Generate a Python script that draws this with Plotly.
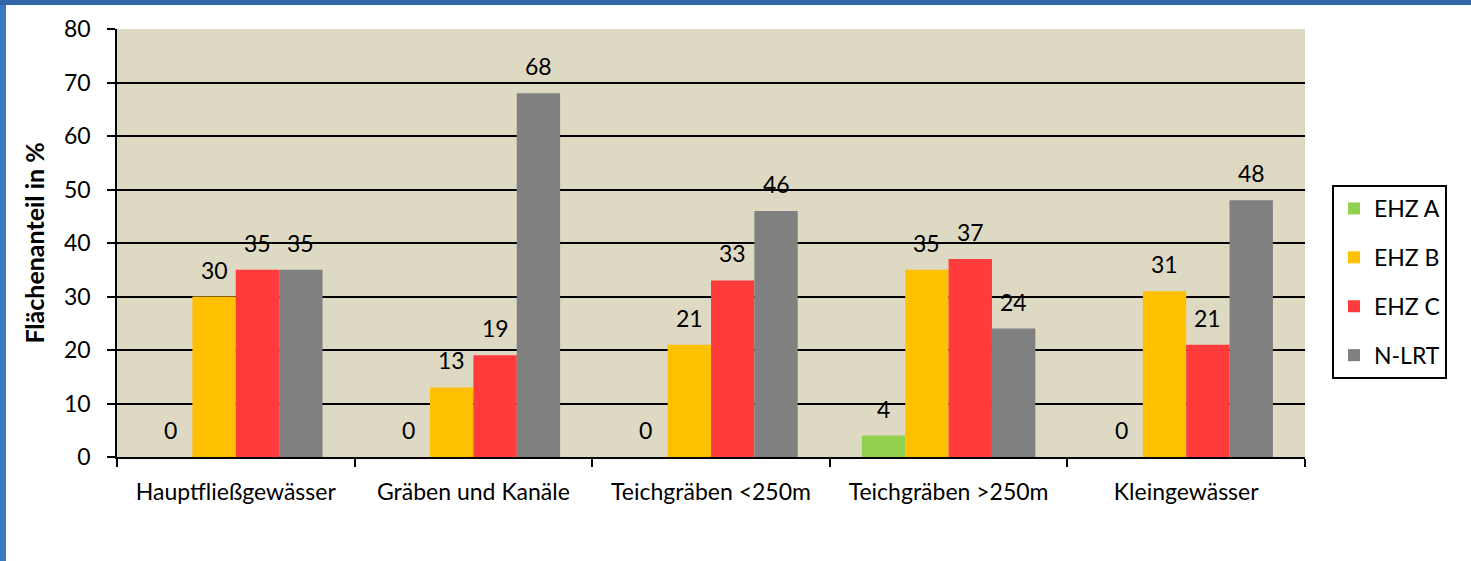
import plotly.graph_objects as go

categories = ["Hauptfließgewässer", "Gräben und Kanäle", "Teichgräben <250m", "Teichgräben >250m", "Kleingewässer"]
ehz_a = [0, 0, 0, 4, 0]
ehz_b = [30, 13, 21, 35, 31]
ehz_c = [35, 19, 33, 37, 21]
n_lrt = [35, 68, 46, 24, 48]
series_names = ["EHZ A", "EHZ B", "EHZ C", "N-LRT"]
series_values = [ehz_a, ehz_b, ehz_c, n_lrt]
colors = ["#92D050", "#FFC000", "#FF3B3B", "#808080"]
y_ticks = [0, 10, 20, 30, 40, 50, 60, 70, 80]

W, H = 1471, 561
L, R, T, B = 117, 166, 29, 104
PW, PH = W - L - R, H - T - B
FONT = "Lato"
FS = 23
bargap = 0.27

fig = go.Figure()
for name, vals, col in zip(series_names, series_values, colors):
    fig.add_trace(go.Bar(
        x=categories, y=vals, name=name,
        marker=dict(color=col, line=dict(width=0)),
        legendgroup=name,
    ))

bw = (1 - bargap) / len(series_names)
annotations = []
for j, vals in enumerate(series_values):
    for i, v in enumerate(vals):
        annotations.append(dict(
            x=i + (j - (len(series_names) - 1) / 2) * bw, y=v, xref="x", yref="y",
            text=str(v), showarrow=False, yshift=27,
            font=dict(family=FONT, size=FS, color="black"),
        ))

shapes = [
    dict(type="rect", xref="paper", yref="paper",
         x0=-L / PW, x1=(-L + 6) / PW, y0=-B / PH, y1=1 + T / PH,
         fillcolor="#3A78C0", line=dict(width=0), layer="above"),
    dict(type="rect", xref="paper", yref="paper",
         x0=-L / PW, x1=1 + R / PW, y0=1 + (T - 5) / PH, y1=1 + T / PH,
         fillcolor="#3366A8", line=dict(width=0), layer="above"),
]

fig.update_layout(
    width=W, height=H,
    margin=dict(l=L, r=R, t=T, b=B, pad=0),
    barmode="group", bargap=bargap, bargroupgap=0,
    plot_bgcolor="#DDD9C3", paper_bgcolor="white",
    font=dict(family=FONT, size=FS, color="black"),
    annotations=annotations, shapes=shapes,
    legend=dict(
        x=1 + 27 / PW, xanchor="left", y=1 - (282 - T) / PH, yanchor="middle",
        bordercolor="black", borderwidth=2, bgcolor="white",
        font=dict(family=FONT, size=FS), tracegroupgap=16,
        itemwidth=30,
    ),
    xaxis=dict(
        type="category",
        range=[-0.5, len(categories) - 0.5],
        showline=True, linecolor="black", linewidth=1.5,
        ticks="outside", ticklen=8, tickcolor="black", tickwidth=1.5,
        tickson="boundaries", showgrid=False,
        ticklabelstandoff=14,
        tickfont=dict(family=FONT, size=FS),
    ),
    yaxis=dict(
        range=[0, 80], tickvals=y_ticks,
        showline=True, linecolor="black", linewidth=1.5,
        ticks="outside", ticklen=8, tickcolor="black", tickwidth=1.5,
        showgrid=True, gridcolor="black", gridwidth=1.5,
        zeroline=False, ticklabelstandoff=12,
        title=dict(text="<b>Flächenanteil in %</b>", font=dict(family=FONT, size=25), standoff=12),
        tickfont=dict(family=FONT, size=FS),
    ),
)

fig.write_html("out.html", config={"displayModeBar": False},
               post_script="document.body.style.margin='0';document.body.style.overflow='hidden';")
